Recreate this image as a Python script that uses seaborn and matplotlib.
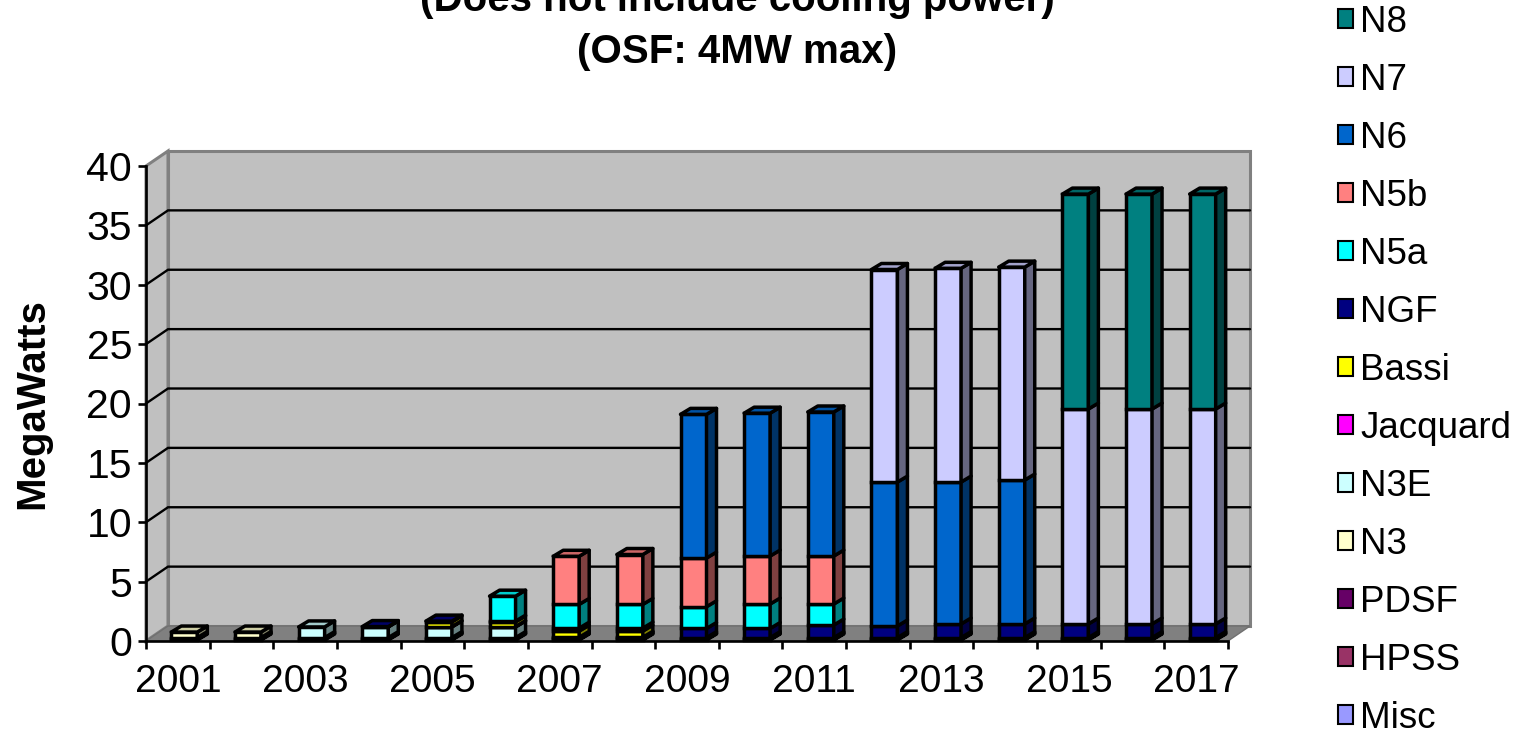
import numpy as np
import pandas as pd
import seaborn as sns
import matplotlib.pyplot as plt
from matplotlib.colors import to_rgb
from matplotlib.patches import Polygon, Patch

# Data (stack order, bottom to top)
years = list(range(2001, 2018))
misc = [0.05] * 17
hpss = [0.05] * 17
pdsf = [0.10] * 17
n3 = [0.47, 0.47, 0, 0, 0, 0, 0, 0, 0, 0, 0, 0, 0, 0, 0, 0, 0]
n3e = [0, 0, 0.90, 0.90, 0.90, 0.90, 0, 0, 0, 0, 0, 0, 0, 0, 0, 0, 0]
jacquard = [0, 0, 0, 0, 0.03, 0.03, 0.03, 0.03, 0, 0, 0, 0, 0, 0, 0, 0, 0]
bassi = [0, 0, 0, 0, 0.40, 0.40, 0.52, 0.52, 0, 0, 0, 0, 0, 0, 0, 0, 0]
ngf = [0, 0, 0, 0.03, 0.06, 0.06, 0.25, 0.25, 0.77, 0.77, 1.06, 0.98, 1.15, 1.15, 1.15, 1.15, 1.15]
n5a = [0, 0, 0, 0, 0, 2.10, 2.00, 2.00, 1.83, 2.06, 1.77, 0, 0, 0, 0, 0, 0]
n5b = [0, 0, 0, 0, 0, 0, 4.05, 4.20, 4.10, 4.04, 4.04, 0, 0, 0, 0, 0, 0]
n6 = [0, 0, 0, 0, 0, 0, 0, 0, 12.10, 12.03, 12.13, 12.12, 11.95, 12.12, 0, 0, 0]
n7 = [0, 0, 0, 0, 0, 0, 0, 0, 0, 0, 0, 17.90, 18.00, 17.93, 18.10, 18.10, 18.10]
n8 = [0, 0, 0, 0, 0, 0, 0, 0, 0, 0, 0, 0, 0, 0, 18.10, 18.10, 18.10]

series = ["Misc", "HPSS", "PDSF", "N3", "N3E", "Jacquard", "Bassi", "NGF", "N5a", "N5b", "N6", "N7", "N8"]
values = [misc, hpss, pdsf, n3, n3e, jacquard, bassi, ngf, n5a, n5b, n6, n7, n8]
colors = ["#9999FF", "#993366", "#660066", "#FFFFCC", "#CCFFFF", "#FF00FF", "#FFFF00",
          "#000080", "#00FFFF", "#FF8080", "#0066CC", "#CCCCFF", "#008080"]

# Chart geometry
W, H = 1522, 733
left, right, top, bottom = 146, 1228, 166, 641
px_x = (right - left) / 17      # pixels per category
px_y = (bottom - top) / 40      # pixels per MW
wall_dx, wall_dy = 22 / px_x, 15 / px_y
bar_dx, bar_dy = 10 / px_x, 6 / px_y
bar_shift, bar_lift = 6.5 / px_x, 1.0 / px_y
edge = 2.5

df = pd.DataFrame({"year": np.tile(years, len(series)),
                   "series": np.repeat(series, len(years)),
                   "mw": np.concatenate(values)})

sns.set_style("white", {"text.color": "black", "axes.labelcolor": "black",
                        "xtick.color": "black", "ytick.color": "black"})
plt.rcParams["font.family"] = ["Liberation Sans", "DejaVu Sans"]

fig = plt.figure(figsize=(W / 100, H / 100), dpi=100)
ax = fig.add_axes([left / W, 1 - bottom / H, (right - left) / W, (bottom - top) / H])

# Stacked front faces
base = np.zeros(len(years))
for name, color in zip(series, colors):
    part = df[df["series"] == name]
    sns.barplot(data=part, x="year", y="mw", color=color, saturation=1, bottom=base,
                width=26 / px_x, edgecolor="black", linewidth=edge, ax=ax, zorder=5,
                errorbar=None)
    base = base + part["mw"].to_numpy()


def shade(color, f=0.5):
    return tuple(c * f for c in to_rgb(color))


# Depth faces built from the bars seaborn drew
for cont, color, vals in zip(ax.containers, colors, values):
    for rect, v in zip(cont.patches, vals):
        rect.set_x(rect.get_x() + bar_shift)
        rect.set_y(rect.get_y() + bar_lift)
        rect.set_clip_on(False)
        if v <= 0:
            rect.set_visible(False)
            continue
        x1 = rect.get_x() + rect.get_width()
        y0, y1 = rect.get_y(), rect.get_y() + rect.get_height()
        side = [(x1, y0), (x1 + bar_dx, y0 + bar_dy), (x1 + bar_dx, y1 + bar_dy), (x1, y1)]
        ax.add_patch(Polygon(side, fc=shade(color), ec="black", lw=edge, zorder=5,
                             clip_on=False, joinstyle="round"))

# Top cap takes the colour of the highest segment in each year
for i, rect_x in enumerate(ax.containers[0].patches):
    xl = rect_x.get_x()
    xr = xl + rect_x.get_width()
    idx = max(k for k in range(len(series)) if values[k][i] > 0)
    ytop = sum(v[i] for v in values) + bar_lift
    cap = [(xl, ytop), (xl + bar_dx, ytop + bar_dy), (xr + bar_dx, ytop + bar_dy), (xr, ytop)]
    ax.add_patch(Polygon(cap, fc=shade(colors[idx], 0.8), ec="black", lw=edge, zorder=6,
                         clip_on=False, joinstyle="round"))

# Walls and floor
ax.set_xlim(-0.5, 16.5)
ax.set_ylim(0, 40)
x0, x1 = -0.5, 16.5
wall = "#C0C0C0"
line = "#808080"
ax.add_patch(Polygon([(x0 + wall_dx, wall_dy), (x1 + wall_dx, wall_dy), (x1 + wall_dx, 40 + wall_dy),
                      (x0 + wall_dx, 40 + wall_dy)], fc=wall, ec=line, lw=2.2, zorder=0, clip_on=False))
ax.add_patch(Polygon([(x0, 0), (x0 + wall_dx, wall_dy), (x0 + wall_dx, 40 + wall_dy), (x0, 40)],
                     fc=wall, ec=line, lw=2.2, zorder=0, clip_on=False))
ax.add_patch(Polygon([(x0, 0), (x1, 0), (x1 + wall_dx, wall_dy), (x0 + wall_dx, wall_dy)],
                     fc=line, ec="#707070", lw=1, zorder=1, clip_on=False))
for v in range(5, 40, 5):
    ax.plot([x0, x0 + wall_dx, x1 + wall_dx], [v, v + wall_dy, v + wall_dy],
            color="black", lw=1.7, zorder=2, clip_on=False, solid_joinstyle="miter")

sns.despine(ax=ax, top=True, right=True)
for s in ["left", "bottom"]:
    ax.spines[s].set_linewidth(1.9)
    ax.spines[s].set_color("black")
    ax.spines[s].set_zorder(3)
ax.patch.set_alpha(0)

ax.set_xticks(np.arange(-0.5, 17, 1))
ax.set_xticklabels([])
ax.set_xticks(np.arange(0, 17, 2), labels=years[::2], minor=True)
ax.tick_params(axis="x", which="major", length=6, width=1.9, bottom=True)
ax.tick_params(axis="x", which="minor", length=0, labelsize=28, pad=16.5, bottom=True)
ax.set_yticks(range(0, 45, 5))
ax.tick_params(axis="y", length=6, width=1.9, labelsize=29.5, pad=4, left=True)
ax.set_xlabel("")
ax.set_ylabel("")

fig.text(32 / W, 1 - 404 / H, "MegaWatts", rotation=90, fontsize=29, fontweight="bold",
         ha="center", va="center")
fig.text(737 / W, 1 - 0 / H, "(Does not include cooling power)", fontsize=29, fontweight="bold",
         ha="center", va="center")
fig.text(737 / W, 1 - 52 / H, "(OSF: 4MW max)", fontsize=29, fontweight="bold",
         ha="center", va="center")

# Legend
handles = [Patch(fc=c, ec="black", lw=1.5, label=n) for n, c in zip(series[::-1], colors[::-1])]
fig.legend(handles=handles, loc="upper left", bbox_to_anchor=(1338 / W, 1 - 5 / H), frameon=False,
           fontsize=26.5, labelspacing=0.625, handlelength=0.41, handleheight=0.41, handletextpad=0.2,
           borderpad=0, borderaxespad=0)

plt.savefig("out.png", dpi=100)
